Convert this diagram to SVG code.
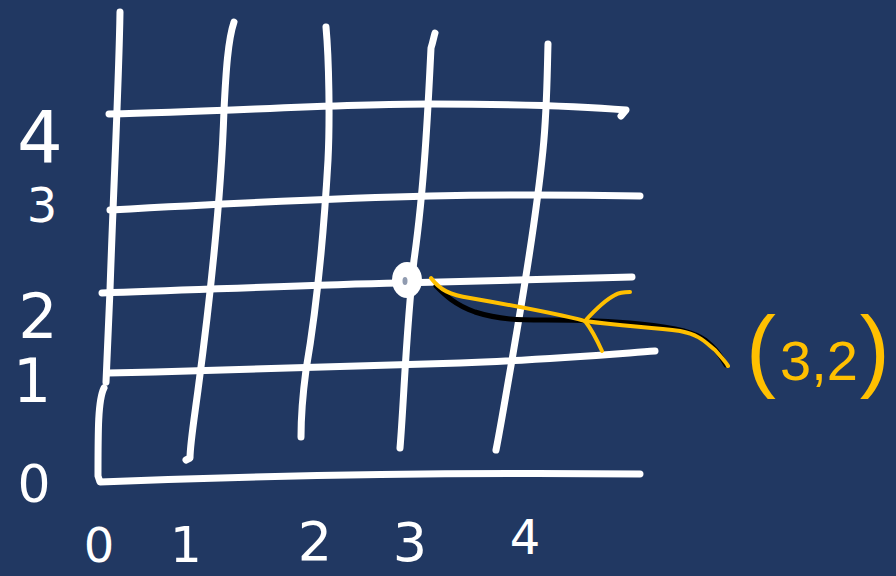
<svg xmlns="http://www.w3.org/2000/svg" width="896" height="576" viewBox="0 0 896 576">
<style>
.g{fill:none;stroke:#fff;stroke-width:7;stroke-linecap:round;stroke-linejoin:round}
.y{fill:none;stroke:#FFC000;stroke-width:4;stroke-linecap:round;stroke-linejoin:round}
.k{fill:none;stroke:#000;stroke-width:5;stroke-linecap:round;stroke-linejoin:round}
.w{fill:#fff;font-family:"DejaVu Sans","Liberation Sans",sans-serif;text-anchor:middle}
.yt{fill:#FFC000;font-family:"Liberation Sans",sans-serif}
</style>
<rect width="896" height="576" fill="#213862"/>
<g id="grid">
<path class="g" d="M120,12 C119,80 113,200 110,290 C108,330 107,360 106,382"/>
<path class="g" d="M104,388 C98,400 98,430 98,476 L100,482 C200,478 400,472 640,474"/>
<path class="g" d="M234,22 C228,40 226,70 224,110 C221,200 210,300 198,390 C194,420 190,445 190,458 L186,460"/>
<path class="g" d="M326,27 C329,60 330,120 328,160 C324,230 318,300 306,370 C302,400 301,420 301,437"/>
<path class="g" d="M435,33 C434,36 433,42 431,48 C428,110 424,190 414,260 C406,330 404,400 400,448"/>
<path class="g" d="M548,44 C547,80 547,110 543,150 C535,230 522,300 512,360 C505,400 500,430 496,450"/>
<path class="g" d="M109,114 C220,112 330,104 430,104 C520,104 580,106 626,110 L621,116"/>
<path class="g" d="M110,210 C220,204 330,198 430,196 C520,194 590,195 640,196"/>
<path class="g" d="M102,293 C200,290 300,285 400,283 C480,281 560,279 632,277"/>
<path class="g" d="M108,373 C240,370 380,366 460,363 C540,360 600,355 655,351"/>
</g>
<g id="point">
<ellipse cx="407" cy="280" rx="15" ry="18" fill="#fff"/>
<ellipse cx="405" cy="281" rx="2.5" ry="4" fill="#213862" opacity="0.5"/>
</g>
<g id="connectors">
<path class="k" d="M436,286 C445,295 455,305 475,312 C500,320 520,320 545,320 C580,320 610,321 640,324 C680,328 695,333 705,340 C712,346 716,348 726,365"/>
<path class="y" d="M431,278 C440,290 450,295 470,298 C510,305 550,312 585,321 C620,326 650,327 680,331 C700,335 705,342 715,350 C722,358 726,362 728,366"/>
<path class="y" d="M585,321 C595,310 605,300 615,295 C620,292 625,292 630,292"/>
<path class="y" d="M585,321 C592,330 597,340 602,351"/>
</g>
<g id="ylabels">
<text class="w" x="40" y="162" font-size="72">4</text>
<text class="w" x="42" y="222" font-size="48">3</text>
<text class="w" x="38" y="338" font-size="62">2</text>
<text class="w" x="32" y="402" font-size="60">1</text>
<text class="w" x="34" y="502" font-size="52">0</text>
</g>
<g id="xlabels">
<text class="w" x="99" y="562" font-size="48">0</text>
<text class="w" x="186" y="562" font-size="50">1</text>
<text class="w" x="315" y="560" font-size="54">2</text>
<text class="w" x="410" y="561" font-size="54">3</text>
<text class="w" x="525" y="554" font-size="48">4</text>
</g>
<g id="label32">
<text class="yt" x="746" y="380"><tspan font-size="90">(</tspan><tspan font-size="56" dx="4">3,2</tspan><tspan font-size="90" dx="2">)</tspan></text>
</g>
</svg>
